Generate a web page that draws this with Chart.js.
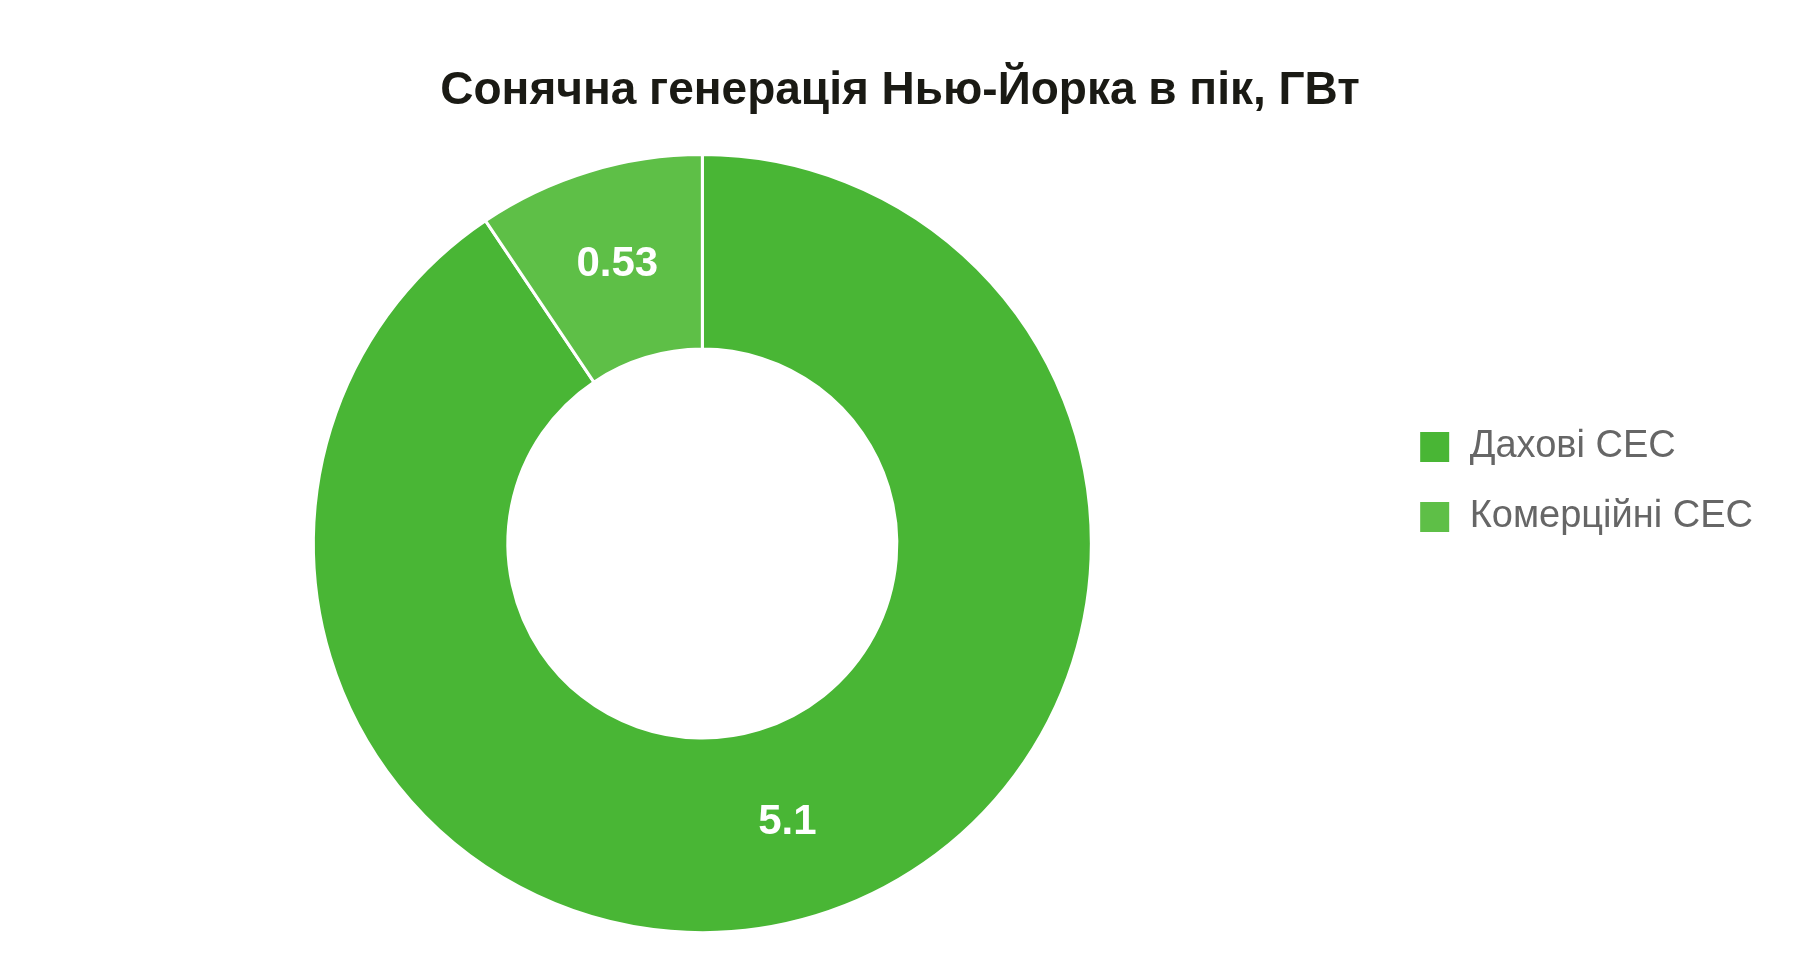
<!DOCTYPE html>
<html>
<head>
<meta charset="utf-8">
<script src="https://cdn.jsdelivr.net/npm/chart.js@4.4.1/dist/chart.umd.min.js"></script>
<style>
  html, body { margin: 0; padding: 0; background: #ffffff; }
  #wrap { width: 1800px; height: 960px; position: relative; }
</style>
</head>
<body>
<div id="wrap"><canvas id="c"></canvas></div>
<script>
const chartTitle = 'Сонячна генерація Нью-Йорка в пік, ГВт';
const categories = ['Дахові СЕС', 'Комерційні СЕС'];
const values = [5.1, 0.53];
const labelsText = ['5.1', '0.53'];
const colors = ['#49b635', '#5ebf47'];

// leave a gap between the ring and the legend
const areaGap = {
  id: 'areaGap',
  afterLayout(chart) {
    const a = chart.chartArea;
    a.right -= 19;
    a.width = a.right - a.left;
  }
};

const sliceLabels = {
  id: 'sliceLabels',
  afterDatasetsDraw(chart) {
    const ctx = chart.ctx;
    const meta = chart.getDatasetMeta(0);
    ctx.save();
    ctx.fillStyle = '#ffffff';
    ctx.font = 'bold 42px "Liberation Sans", Arial, sans-serif';
    ctx.textAlign = 'center';
    ctx.textBaseline = 'middle';
    meta.data.forEach((arc, i) => {
      const p = arc.tooltipPosition();
      ctx.fillText(labelsText[i], p.x, p.y);
    });
    ctx.restore();
  }
};

new Chart(document.getElementById('c'), {
  type: 'doughnut',
  data: {
    labels: categories,
    datasets: [{
      data: values,
      backgroundColor: colors,
      borderColor: '#ffffff',
      borderWidth: 3,
      hoverOffset: 0,
      radius: 389,
      cutout: '50%'
    }]
  },
  options: {
    responsive: true,
    maintainAspectRatio: false,
    animation: false,
    layout: { padding: { left: 37, right: 37, top: 4, bottom: 0 } },
    plugins: {
      title: {
        display: true,
        text: chartTitle,
        color: '#1a1a14',
        font: { family: '"Liberation Sans", Arial, sans-serif', size: 46, weight: 'bold' },
        padding: { top: 60, bottom: 8 }
      },
      legend: {
        position: 'right',
        labels: {
          color: '#666666',
          font: { family: '"Liberation Sans", Arial, sans-serif', size: 38 },
          boxWidth: 32,
          boxHeight: 33,
          padding: 32
        }
      },
      tooltip: { enabled: false }
    }
  },
  plugins: [areaGap, sliceLabels]
});
</script>
</body>
</html>
